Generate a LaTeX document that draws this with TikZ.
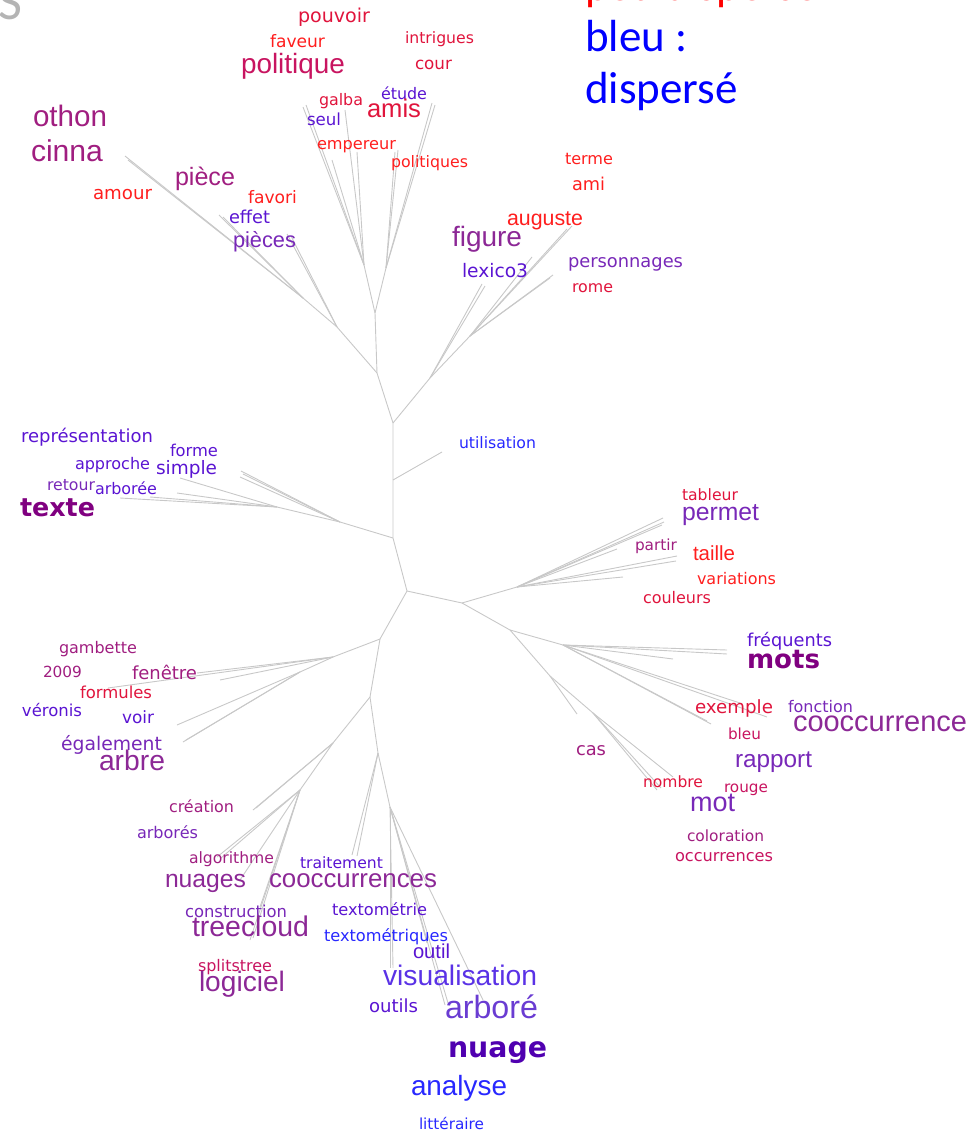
\documentclass[tikz,border=0pt]{standalone}
\usepackage{fontspec}
\usepackage{graphicx}
\newfontfamily\smf{DejaVu Sans}
\newfontfamily\lgf{Liberation Sans}
\newfontfamily\clf{Carlito}
\definecolor{cRed}{HTML}{FF1E1E}
\definecolor{cCrim}{HTML}{E0143C}
\definecolor{cRose}{HTML}{C81460}
\definecolor{cMag}{HTML}{A01E80}
\definecolor{cPM}{HTML}{8C2896}
\definecolor{cPur}{HTML}{7828B8}
\definecolor{cDark}{HTML}{800080}
\definecolor{cViol}{HTML}{5A14D2}
\definecolor{cBV}{HTML}{5A32E6}
\definecolor{cBVb}{HTML}{6A3CD2}
\definecolor{cNuage}{HTML}{5000B0}
\definecolor{cBlue}{HTML}{2828FF}
\definecolor{cGreyT}{HTML}{B4B4B4}
\definecolor{cEdge}{HTML}{C8C8C8}
\newcommand\wordlab[7]{\node[word,text=#5] (#1) at (#2,#3) {\resizebox{#4pt}{!}{#6#7}};}
\begin{document}
\begin{tikzpicture}[x=1pt,y=-1pt,
  word/.style={anchor=base west,inner sep=0pt,outer sep=0pt},
  edge/.style={draw=cEdge,line width=0.9pt},
  legend/.style={anchor=base west,inner sep=0pt,font=\fontsize{45}{54}\clf}]
\useasboundingbox (0,0) rectangle (979,1131);
% ---------------- tree ----------------
\coordinate (c0) at (407,591);
\coordinate (t1) at (393,538);
\coordinate (t2) at (393,480);
\coordinate (t3) at (393,423);
\coordinate (uL) at (442,452);
\draw[edge] (c0) -- (t1) -- (t2) -- (t3);
\draw[edge] (t2) -- (uL);
% upper left (piece)
\coordinate (a0) at (377,373);
\coordinate (f0) at (375,313);
\coordinate (p0) at (337,327);
\coordinate (p1) at (303,298);
\coordinate (pl1) at (125,156);
\coordinate (pl2) at (128,160);
\coordinate (pl3) at (219,215);
\coordinate (pl4) at (223,217);
\coordinate (pl5) at (287,234);
\coordinate (pl6) at (291,236);
\draw[edge] (t3) -- (a0) -- (f0);
\draw[edge] (a0) -- (p0) -- (p1);
\foreach \l in {pl1,pl2,pl3,pl4} \draw[edge] (p1) -- (\l);
\foreach \l in {pl5,pl6} \draw[edge] (p0) -- (\l);
% upper fan
\coordinate (fl) at (364,265);
\coordinate (fr) at (386,268);
\coordinate (fa1) at (303,107);
\coordinate (fa2) at (306,105);
\coordinate (fa3) at (332,160);
\coordinate (fa4) at (345,110);
\coordinate (fa5) at (357,152);
\coordinate (fb1) at (395,152);
\coordinate (fb2) at (398,150);
\coordinate (fb3) at (432,103);
\coordinate (fb4) at (435,105);
\draw[edge] (f0) -- (fl);
\draw[edge] (f0) -- (fr);
\foreach \l in {fa1,fa2,fa3,fa4,fa5} \draw[edge] (fl) -- (\l);
\foreach \l in {fb1,fb2,fb3,fb4} \draw[edge] (fr) -- (\l);
% figure cluster
\coordinate (g0) at (430,378);
\coordinate (g1) at (470,336);
\coordinate (ga1) at (482,284);
\coordinate (ga2) at (485,286);
\coordinate (gb1) at (572,226);
\coordinate (gb2) at (567,229);
\coordinate (gb3) at (553,275);
\coordinate (gb4) at (550,278);
\coordinate (gb5) at (532,257);
\draw[edge] (t3) -- (g0) -- (g1);
\foreach \l in {ga1,ga2} \draw[edge] (g0) -- (\l);
\foreach \l in {gb1,gb2,gb3,gb4,gb5} \draw[edge] (g1) -- (\l);
% texte cluster
\coordinate (k0) at (340,522);
\coordinate (k1) at (277,507);
\coordinate (ka1) at (241,471);
\coordinate (ka2) at (243,474);
\coordinate (ka3) at (240,477);
\coordinate (kb1) at (120,498);
\coordinate (kb2) at (150,497);
\coordinate (kb3) at (177,493);
\coordinate (kb4) at (180,478);
\draw[edge] (t1) -- (k0) -- (k1);
\foreach \l in {ka1,ka2,ka3} \draw[edge] (k0) -- (\l);
\foreach \l in {kb1,kb2,kb3,kb4} \draw[edge] (k1) -- (\l);
% right clusters
\coordinate (r0) at (462,603);
\coordinate (r1) at (517,587);
\coordinate (r2) at (510,630);
\coordinate (r3) at (563,645);
\coordinate (r4) at (550,676);
\coordinate (r5) at (593,713);
\coordinate (ra1) at (663,518);
\coordinate (ra2) at (664,522);
\coordinate (ra3) at (662,525);
\coordinate (ra4) at (617,549);
\coordinate (ra5) at (677,556);
\coordinate (ra6) at (676,561);
\coordinate (ra7) at (623,577);
\coordinate (rb1) at (727,650);
\coordinate (rb2) at (727,654);
\coordinate (rb3) at (673,659);
\coordinate (rb4) at (740,703);
\coordinate (rb5) at (767,717);
\coordinate (rb6) at (707,721);
\coordinate (rb7) at (711,724);
\coordinate (rc1) at (577,714);
\coordinate (rd1) at (657,790);
\coordinate (rd2) at (673,777);
\coordinate (rd3) at (661,788);
\draw[edge] (c0) -- (r0) -- (r1);
\draw[edge] (r0) -- (r2) -- (r3);
\draw[edge] (r2) -- (r4) -- (r5);
\foreach \l in {ra1,ra2,ra3,ra4,ra5,ra6,ra7} \draw[edge] (r1) -- (\l);
\foreach \l in {rb1,rb2,rb3,rb4,rb5,rb6,rb7} \draw[edge] (r3) -- (\l);
\draw[edge] (r4) -- (rc1);
\foreach \l in {rd1,rd2,rd3} \draw[edge] (r5) -- (\l);
% lower left clusters
\coordinate (l0) at (380,639);
\coordinate (l1) at (333,657);
\coordinate (l1b) at (300,672);
\coordinate (la1) at (197,673);
\coordinate (la2) at (220,680);
\coordinate (la3) at (108,688);
\coordinate (lb1) at (177,725);
\coordinate (lb2) at (183,742);
\coordinate (lb3) at (186,740);
\coordinate (l2) at (370,697);
\coordinate (l3) at (333,743);
\coordinate (l3b) at (300,790);
\coordinate (lc1) at (253,810);
\coordinate (lc2) at (256,808);
\coordinate (ld1) at (217,857);
\coordinate (ld2) at (221,858);
\coordinate (ld3) at (240,880);
\coordinate (ld4) at (260,907);
\coordinate (ld5) at (250,940);
\coordinate (ld6) at (253,938);
\coordinate (l4) at (378,753);
\coordinate (l6) at (390,807);
\coordinate (le1) at (352,855);
\coordinate (le2) at (357,856);
\coordinate (lf1) at (390,968);
\coordinate (lf2) at (393,968);
\coordinate (lf3) at (445,1005);
\coordinate (lf4) at (448,1003);
\coordinate (lf5) at (483,1000);
\coordinate (lf6) at (427,943);
\draw[edge] (c0) -- (l0) -- (l1);
\foreach \l in {la1,la2,la3} \draw[edge] (l1) -- (\l);
\draw[edge] (l1) -- (l1b);
\foreach \l in {lb1,lb2,lb3} \draw[edge] (l1b) -- (\l);
\draw[edge] (l0) -- (l2) -- (l3);
\foreach \l in {lc1,lc2} \draw[edge] (l3) -- (\l);
\draw[edge] (l3) -- (l3b);
\foreach \l in {ld1,ld2,ld3,ld4,ld5,ld6} \draw[edge] (l3b) -- (\l);
\draw[edge] (l2) -- (l4) -- (l6);
\foreach \l in {le1,le2} \draw[edge] (l4) -- (\l);
\foreach \l in {lf1,lf2,lf3,lf4,lf5,lf6} \draw[edge] (l6) -- (\l);
% ---------------- words ----------------
\wordlab{w1}{298}{23}{72}{cCrim}{\smf}{pouvoir}
\wordlab{w2}{270}{48}{55}{cRed}{\smf}{faveur}
\wordlab{w3}{405}{44}{69}{cCrim}{\smf}{intrigues}
\wordlab{w4}{241}{74}{104}{cRose}{\lgf}{politique}
\wordlab{w5}{415}{70}{37}{cCrim}{\smf}{cour}
\wordlab{w6}{319}{106}{44}{cCrim}{\smf}{galba}
\wordlab{w7}{381}{100}{46}{cViol}{\smf}{étude}
\wordlab{w8}{367}{118}{54}{cCrim}{\lgf}{amis}
\wordlab{w9}{307}{126}{34}{cViol}{\smf}{seul}
\wordlab{w10}{317}{150}{79}{cRed}{\smf}{empereur}
\wordlab{w11}{391}{168}{77}{cRed}{\smf}{politiques}
\wordlab{w12}{33}{127}{74}{cMag}{\lgf}{othon}
\wordlab{w13}{31}{162}{72}{cMag}{\lgf}{cinna}
\wordlab{w14}{175}{186}{60}{cMag}{\lgf}{pièce}
\wordlab{w15}{93}{200}{59}{cRed}{\smf}{amour}
\wordlab{w16}{248}{204}{49}{cRed}{\smf}{favori}
\wordlab{w17}{229}{224}{41}{cViol}{\smf}{effet}
\wordlab{w18}{233}{248}{63}{cPur}{\lgf}{pièces}
\wordlab{w19}{565}{165}{48}{cRed}{\smf}{terme}
\wordlab{w20}{572}{191}{33}{cRed}{\smf}{ami}
\wordlab{w21}{507}{226}{76}{cRed}{\lgf}{auguste}
\wordlab{w22}{452}{247}{70}{cPM}{\lgf}{figure}
\wordlab{w23}{462}{278}{66}{cViol}{\smf}{lexico3}
\wordlab{w24}{568}{268}{115}{cPur}{\smf}{personnages}
\wordlab{w25}{572}{292}{41}{cCrim}{\smf}{rome}
\wordlab{w26}{21}{442}{132}{cViol}{\smf}{représentation}
\wordlab{w27}{170}{456}{48}{cViol}{\smf}{forme}
\wordlab{w28}{75}{469}{75}{cViol}{\smf}{approche}
\wordlab{w29}{156}{474}{61}{cViol}{\smf}{simple}
\wordlab{w30}{47}{490}{48}{cPur}{\smf}{retour}
\wordlab{w31}{95}{494}{62}{cViol}{\smf}{arborée}
\wordlab{w32}{20}{516}{75}{cDark}{\smf\bfseries}{texte}
\wordlab{w33}{459}{448}{77}{cBlue}{\smf}{utilisation}
\wordlab{w34}{682}{500}{56}{cCrim}{\smf}{tableur}
\wordlab{w35}{682}{520}{77}{cPur}{\lgf}{permet}
\wordlab{w36}{635}{550}{42}{cMag}{\smf}{partir}
\wordlab{w37}{693}{560}{42}{cRed}{\lgf}{taille}
\wordlab{w38}{697}{584}{79}{cRed}{\smf}{variations}
\wordlab{w39}{643}{603}{68}{cCrim}{\smf}{couleurs}
\wordlab{w40}{747}{646}{85}{cViol}{\smf}{fréquents}
\wordlab{w41}{747}{668}{73}{cDark}{\smf\bfseries}{mots}
\wordlab{w42}{695}{713}{78}{cCrim}{\smf}{exemple}
\wordlab{w43}{788}{712}{65}{cPur}{\smf}{fonction}
\wordlab{w44}{793}{731}{174}{cPM}{\lgf}{cooccurrence}
\wordlab{w45}{728}{739}{33}{cRose}{\smf}{bleu}
\wordlab{w46}{576}{755}{30}{cMag}{\smf}{cas}
\wordlab{w47}{735}{767}{77}{cPur}{\lgf}{rapport}
\wordlab{w48}{643}{787}{60}{cCrim}{\smf}{nombre}
\wordlab{w49}{724}{792}{44}{cRose}{\smf}{rouge}
\wordlab{w50}{690}{811}{45}{cPur}{\lgf}{mot}
\wordlab{w51}{687}{841}{77}{cMag}{\smf}{coloration}
\wordlab{w52}{675}{861}{98}{cRose}{\smf}{occurrences}
\wordlab{w53}{59}{653}{78}{cMag}{\smf}{gambette}
\wordlab{w54}{43}{677}{39}{cMag}{\smf}{2009}
\wordlab{w55}{132}{679}{65}{cMag}{\smf}{fenêtre}
\wordlab{w56}{80}{698}{72}{cCrim}{\smf}{formules}
\wordlab{w57}{22}{716}{60}{cViol}{\smf}{véronis}
\wordlab{w58}{122}{723}{32}{cViol}{\smf}{voir}
\wordlab{w59}{61}{750}{101}{cPur}{\smf}{également}
\wordlab{w60}{99}{770}{66}{cPM}{\lgf}{arbre}
\wordlab{w61}{169}{812}{65}{cMag}{\smf}{création}
\wordlab{w62}{137}{838}{61}{cPur}{\smf}{arborés}
\wordlab{w63}{189}{863}{85}{cMag}{\smf}{algorithme}
\wordlab{w64}{300}{868}{83}{cViol}{\smf}{traitement}
\wordlab{w65}{165}{887}{81}{cPM}{\lgf}{nuages}
\wordlab{w66}{269}{887}{168}{cPM}{\lgf}{cooccurrences}
\wordlab{w67}{185}{917}{102}{cPur}{\smf}{construction}
\wordlab{w68}{332}{915}{95}{cViol}{\smf}{textométrie}
\wordlab{w69}{192}{936}{117}{cPM}{\lgf}{treecloud}
\wordlab{w70}{324}{941}{124}{cBlue}{\smf}{textométriques}
\wordlab{w71}{413}{958}{37}{cViol}{\lgf}{outil}
\wordlab{w72}{198}{971}{74}{cRose}{\smf}{splitstree}
\wordlab{w73}{199}{991}{86}{cPM}{\lgf}{logiciel}
\wordlab{w74}{383}{985}{154}{cBV}{\lgf}{visualisation}
\wordlab{w75}{369}{1012}{49}{cViol}{\smf}{outils}
\wordlab{w76}{445}{1018}{93}{cBVb}{\lgf}{arboré}
\wordlab{w77}{448}{1057}{99}{cNuage}{\smf\bfseries}{nuage}
\wordlab{w78}{411}{1095}{96}{cBlue}{\lgf}{analyse}
\wordlab{w79}{419}{1129}{65}{cBlue}{\smf}{littéraire}
% ---------------- legend / title fragments ----------------
\node[anchor=base west,inner sep=0pt,text=cGreyT,font=\fontsize{52}{60}\clf] (ttl) at (-2,20) {S};
\node[legend,text=red] (lg0) at (585,1) {peu dispersé};
\node[legend,text=blue] (lg1) at (585,52) {bleu :};
\node[legend,text=blue] (lg2) at (585,104) {dispersé};
\end{tikzpicture}
\end{document}
